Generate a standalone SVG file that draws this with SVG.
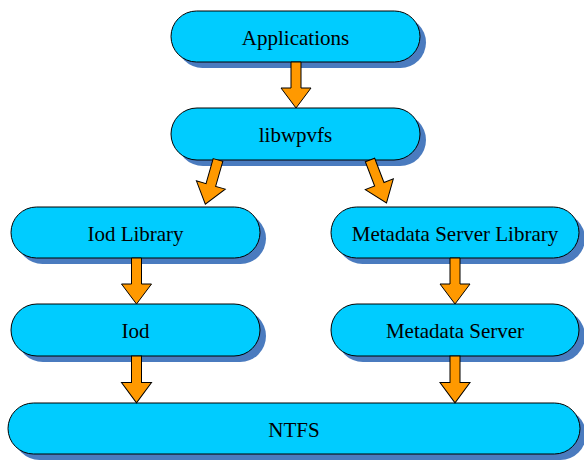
<svg xmlns="http://www.w3.org/2000/svg" xmlns:xlink="http://www.w3.org/1999/xlink" width="584" height="462" viewBox="0 0 584 462">
  <style>
    .shadow { fill: #4a7bbf; }
    .box { fill: #00ccff; stroke: #000000; stroke-width: 1; }
    .label { font-family: "Liberation Serif", "Times New Roman", serif; font-size: 21px; fill: #000000; text-anchor: middle; }
    .arrow { fill: #ff9900; stroke: #000000; stroke-width: 1; stroke-linejoin: miter; }
  </style>
  <defs>
    <!-- block arrow pointing down, tail at origin, tip at (0,46) -->
    <polygon id="blockArrow" class="arrow" points="-5,0 5,0 5,26 15,26 0,46 -15,26 -5,26"/>
  </defs>
  <rect width="584" height="462" fill="#ffffff"/>

  <g id="applications">
    <rect class="shadow" x="177" y="17" width="249" height="51" rx="25.5"/>
    <rect class="box" x="171" y="11" width="249" height="51" rx="25.5"/>
    <text class="label" x="295.5" y="44.5">Applications</text>
  </g>
  <g id="libwpvfs">
    <rect class="shadow" x="177" y="114" width="249" height="52" rx="26"/>
    <rect class="box" x="171" y="108" width="249" height="52" rx="26"/>
    <text class="label" x="295.5" y="141.5">libwpvfs</text>
  </g>
  <g id="iod-library">
    <rect class="shadow" x="17" y="213" width="249" height="51" rx="25.5"/>
    <rect class="box" x="11" y="207" width="249" height="51" rx="25.5"/>
    <text class="label" x="135.5" y="240.5">Iod Library</text>
  </g>
  <g id="iod">
    <rect class="shadow" x="17" y="310" width="249" height="52" rx="26"/>
    <rect class="box" x="11" y="304" width="249" height="52" rx="26"/>
    <text class="label" x="135.5" y="337.5">Iod</text>
  </g>
  <g id="metadata-server-library">
    <rect class="shadow" x="337" y="213" width="248" height="51" rx="25.5"/>
    <rect class="box" x="331" y="207" width="248" height="51" rx="25.5"/>
    <text class="label" x="455" y="240.5">Metadata Server Library</text>
  </g>
  <g id="metadata-server">
    <rect class="shadow" x="337" y="310" width="248" height="52" rx="26"/>
    <rect class="box" x="331" y="304" width="248" height="52" rx="26"/>
    <text class="label" x="455" y="337.5">Metadata Server</text>
  </g>
  <g id="ntfs">
    <rect class="shadow" x="14" y="409" width="572" height="51" rx="25.5"/>
    <rect class="box" x="8" y="403" width="572" height="51" rx="25.5"/>
    <text class="label" x="294" y="436.5">NTFS</text>
  </g>

  <g id="connectors">
    <use xlink:href="#blockArrow" transform="translate(296,62)"/>
    <use xlink:href="#blockArrow" transform="translate(218,160) rotate(16)"/>
    <use xlink:href="#blockArrow" transform="translate(370,160) rotate(-21)"/>
    <use xlink:href="#blockArrow" transform="translate(136.5,258)"/>
    <use xlink:href="#blockArrow" transform="translate(455,258)"/>
    <use xlink:href="#blockArrow" transform="translate(136.5,356) scale(1,1.02)"/>
    <use xlink:href="#blockArrow" transform="translate(455,356) scale(1,1.02)"/>
  </g>
</svg>
